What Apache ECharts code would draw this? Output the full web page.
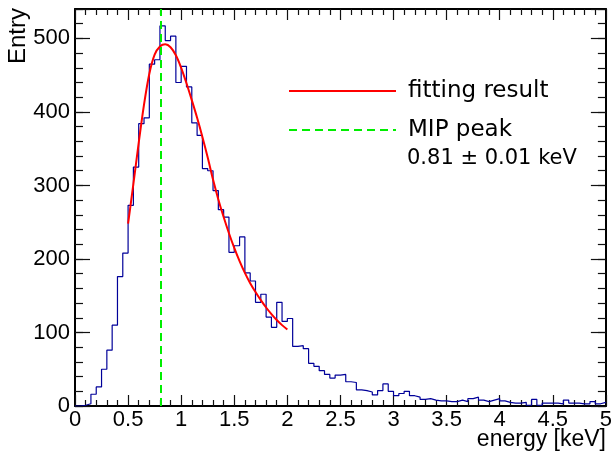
<!DOCTYPE html>
<html>
<head>
<meta charset="utf-8">
<script src="https://cdn.jsdelivr.net/npm/echarts@6/dist/echarts.min.js"></script>
<style>
  html, body { margin: 0; padding: 0; background: #fff; }
  #chart { width: 615px; height: 455px; }
</style>
</head>
<body>
<div id="chart"></div>
<script>
// Energy deposit histogram: 100 bins of 0.05 keV between 0 and 5 keV
const binStart = 0;
const binWidth = 0.05;
const counts = [
  0, 1, 3, 16, 26, 50, 76, 110, 176, 208,
  273, 325, 384, 392, 465, 471, 517, 497, 503, 440,
  462, 434, 385, 368, 323, 320, 293, 267, 257, 209,
  218, 230, 181, 170, 141, 152, 121, 107, 141, 115,
  119, 81, 82, 78, 58, 54, 48, 43, 38, 42,
  43, 33, 32, 22, 21, 19, 15, 21, 30, 20,
  14, 17, 20, 14, 12, 9, 10, 8, 7, 7,
  6, 6, 8, 6, 10, 12, 8, 6, 8, 10,
  7, 5, 4, 4, 5, 1, 9, 1, 4, 4,
  4, 3, 8, 4, 4, 3, 3, 6, 3, 5
];

// Fitted curve, sampled over the fit range 0.5 - 2.0 keV
const fitEnergy = [
  0.50, 0.55, 0.60, 0.65, 0.70, 0.75, 0.80, 0.85, 0.90, 0.95,
  1.00, 1.05, 1.10, 1.15, 1.20, 1.25, 1.30, 1.35, 1.40, 1.45,
  1.50, 1.55, 1.60, 1.65, 1.70, 1.75, 1.80, 1.85, 1.90, 1.95, 2.00
];
const fitCounts = [
  248, 302, 358, 410, 452, 478, 489, 492, 488, 477,
  460, 439, 416, 392, 366, 338, 308, 281, 257, 235,
  215, 197, 181, 167, 155, 144, 134, 125, 117, 110, 104
];

// MIP peak position from the fit
const mipPeak = 0.81;
const mipText = '0.81 \u00b1 0.01 keV';

const xMin = 0, xMax = 5, xMajor = 0.5;
const yMin = 0, yMax = 540, yMajor = 100, yMinor = 20;

const histData = counts.map((c, i) => [binStart + i * binWidth, c]);
histData.push([binStart + counts.length * binWidth, counts[counts.length - 1]]);
const fitData = fitEnergy.map((e, i) => [e, fitCounts[i]]);
const peakData = [[mipPeak, yMin], [mipPeak, yMax]];

const axisFont = 'Liberation Sans';
const legendFont = 'DejaVu Sans';

function xAxisDef(pos, labels) {
  return {
    type: 'value', position: pos, min: xMin, max: xMax, interval: xMajor,
    axisLine: { show: true, onZero: false, lineStyle: { color: '#000', width: 2 } },
    axisTick: { show: true, inside: true, length: 11, lineStyle: { color: '#111', width: 1.2 } },
    minorTick: { show: true, splitNumber: 5, length: 6, lineStyle: { color: '#111', width: 1.2 } },
    splitLine: { show: false }, minorSplitLine: { show: false },
    axisLabel: labels ? {
      show: true, margin: 3, color: '#000', fontFamily: axisFont, fontSize: 22
    } : { show: false }
  };
}

function yAxisDef(pos, step, tickLen, labels, line) {
  return {
    type: 'value', position: pos, min: yMin, max: yMax, interval: step,
    axisLine: { show: line, onZero: false, lineStyle: { color: '#000', width: 2 } },
    axisTick: { show: true, inside: true, length: tickLen, lineStyle: { color: '#111', width: 1.2 } },
    splitLine: { show: false },
    axisLabel: labels ? {
      show: true, margin: 5, color: '#000', fontFamily: axisFont, fontSize: 22,
      formatter: v => (v % yMajor === 0 ? String(v) : '')
    } : { show: false }
  };
}

const chart = echarts.init(document.getElementById('chart'), null, { renderer: 'canvas' });
chart.setOption({
  animation: false,
  backgroundColor: '#fff',
  grid: { left: 75, right: 9, top: 9, bottom: 49, containLabel: false },
  xAxis: [xAxisDef('bottom', true), xAxisDef('top', false)],
  yAxis: [
    yAxisDef('left', yMajor, 15, true, true),
    yAxisDef('right', yMajor, 15, false, true),
    yAxisDef('left', yMinor, 8, false, false),
    yAxisDef('right', yMinor, 8, false, false)
  ],
  legend: {
    data: ['fitting result', 'MIP peak'],
    orient: 'vertical', left: 283, top: 74,
    itemWidth: 107, itemHeight: 14, itemGap: 15,
    selectedMode: false,
    itemStyle: { opacity: 0 },
    textStyle: { fontFamily: legendFont, fontSize: 23, color: '#000', lineHeight: 24, padding: [0, 0, 0, 7] }
  },
  graphic: [
    {
      type: 'text', x: 18, y: 8, rotation: Math.PI / 2,
      style: { text: 'Entry', font: '24px "Liberation Sans"', fill: '#000',
               align: 'right', verticalAlign: 'middle', textAlign: 'right', textVerticalAlign: 'middle' }
    },
    {
      type: 'text', x: 606, y: 440,
      style: { text: 'energy [keV]', font: '23px "Liberation Sans"', fill: '#000',
               align: 'right', verticalAlign: 'middle', textAlign: 'right', textVerticalAlign: 'middle' }
    },
    {
      type: 'text', x: 407, y: 159,
      style: { text: mipText, font: '21px "DejaVu Sans"', fill: '#000',
               align: 'left', verticalAlign: 'middle', textAlign: 'left', textVerticalAlign: 'middle' }
    }
  ],
  series: [
    {
      name: 'histogram', type: 'line', step: 'end', data: histData,
      xAxisIndex: 0, yAxisIndex: 0, symbol: 'none', silent: true, z: 2,
      lineStyle: { color: '#000099', width: 1.2 }
    },
    {
      name: 'fitting result', type: 'line', smooth: 0.3, data: fitData,
      xAxisIndex: 0, yAxisIndex: 0, symbol: 'none', silent: true, z: 3,
      itemStyle: { color: '#ff0000' },
      lineStyle: { color: '#ff0000', width: 2 }
    },
    {
      name: 'MIP peak', type: 'line', data: peakData,
      xAxisIndex: 0, yAxisIndex: 0, symbol: 'none', silent: true, z: 4,
      itemStyle: { color: '#00ee00' },
      lineStyle: { color: '#00ee00', width: 2, type: [8, 5] }
    }
  ]
});
</script>
</body>
</html>
